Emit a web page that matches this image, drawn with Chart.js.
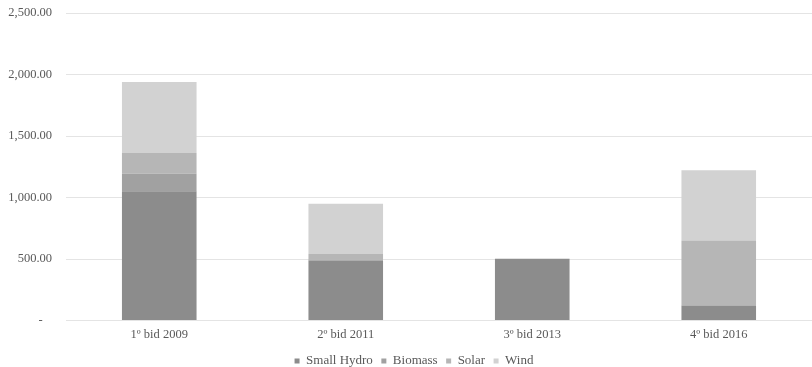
<!DOCTYPE html>
<html><head><meta charset="utf-8">
<script src="https://cdn.jsdelivr.net/npm/chart.js@4"></script>
<style>html,body{margin:0;padding:0;background:#fff}#w{width:812px;height:367px}</style>
</head><body><div id="w"><canvas id="c"></canvas></div>
<script>
const categories = ["1º bid 2009", "2º bid 2011", "3º bid 2013", "4º bid 2016"];
const smallHydro = [1050, 487, 502, 122];
const biomass = [144, 8, 0, 0];
const solar = [168, 45, 0, 529];
const wind = [578, 410, 0, 570];
const seriesNames = ["Small Hydro", "Biomass", "Solar", "Wind"];
const yTicks = [0, 500, 1000, 1500, 2000, 2500];

const colors = ["#8c8c8c", "#a1a1a1", "#b6b6b6", "#d2d2d2"];
const serif = "'Liberation Serif', 'DejaVu Serif', serif";
Chart.defaults.font.family = serif;
Chart.defaults.font.size = 12.5;
Chart.defaults.color = '#595959';
const series = [smallHydro, biomass, solar, wind];

const legendShift = {
  id: 'legendShift',
  afterUpdate(chart) {
    const lg = chart.legend;
    if (lg && !lg._shifted) {
      const orig = lg.draw.bind(lg);
      lg.draw = function () {
        const ctx = chart.ctx;
        ctx.save(); ctx.translate(8, 0); orig(); ctx.restore();
      };
      lg._shifted = true;
    }
  }
};

new Chart(document.getElementById('c'), {
  type: 'bar',
  data: {
    labels: categories,
    datasets: series.map((d, i) => ({
      label: seriesNames[i], data: d, backgroundColor: colors[i],
      borderWidth: 0, barPercentage: 0.4, categoryPercentage: 1
    }))
  },
  plugins: [legendShift],
  options: {
    responsive: true, maintainAspectRatio: false, animation: false,
    layout: {padding: {top: 13, right: 0, bottom: -10.5, left: 0}},
    plugins: {
      tooltip: {enabled: false},
      legend: {
        position: 'bottom',
        labels: {boxWidth: 5, boxHeight: 5, padding: 8.5, color: '#595959', font: {family: serif, size: 13}}
      }
    },
    scales: {
      x: {
        stacked: true,
        afterFit: s => { s.height = 25.5; },
        grid: {display: false, drawTicks: false},
        border: {display: false},
        ticks: {color: '#595959', font: {family: serif, size: 12.5}, padding: 7}
      },
      y: {
        stacked: true, min: 0, max: 2500,
        afterFit: s => { s.width = 66; s.paddingTop = 0; s.paddingBottom = 0; },
        afterBuildTicks: s => { s.ticks = yTicks.map(v => ({value: v})); },
        grid: {color: '#e4e4e4', drawTicks: false, lineWidth: 1},
        border: {display: false},
        ticks: {
          color: '#595959', font: {family: serif, size: 12.5}, padding: 14,
          callback: v => v === 0 ? '-   ' : v.toLocaleString('en-US', {minimumFractionDigits: 2, maximumFractionDigits: 2})
        }
      }
    }
  }
});
</script></body></html>
